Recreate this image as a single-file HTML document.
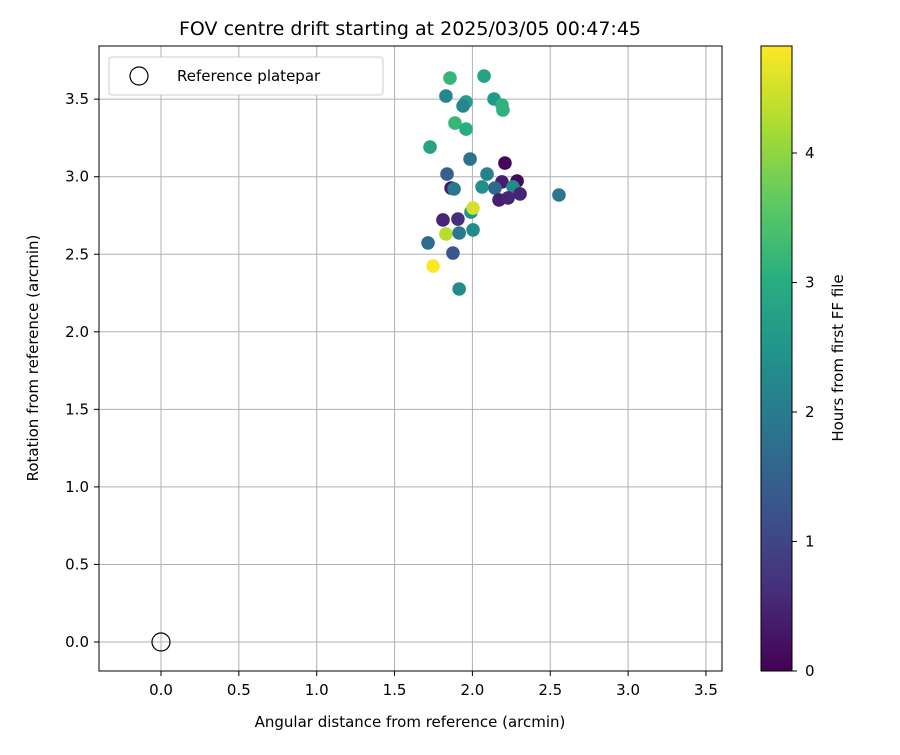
<!DOCTYPE html>
<html><head><meta charset="utf-8"><style>
body{margin:0;background:#fff;font-family:"Liberation Sans","DejaVu Sans",sans-serif}
svg text{font-family:"DejaVu Sans","Liberation Sans",sans-serif}
</style></head><body>
<svg id="chart" width="900" height="750" xmlns="http://www.w3.org/2000/svg">
<defs><linearGradient id="vir" x1="0" y1="1" x2="0" y2="0">
<stop offset="0" stop-color="#440154"/><stop offset="0.125" stop-color="#472d7b"/><stop offset="0.25" stop-color="#3b528b"/><stop offset="0.375" stop-color="#2c728e"/><stop offset="0.5" stop-color="#21918c"/><stop offset="0.625" stop-color="#28ae80"/><stop offset="0.75" stop-color="#5ec962"/><stop offset="0.875" stop-color="#addc30"/><stop offset="1" stop-color="#fde725"/></linearGradient></defs>
<g id="grid"></g>
<g id="pts"></g>
<rect x="99" y="46" width="623" height="625" fill="none" stroke="#000" stroke-width="1"/>
<g id="ticks"></g>
<text x="410" y="35" font-size="19" text-anchor="middle">FOV centre drift starting at 2025/03/05 00:47:45</text>
<text x="410" y="727" font-size="15" text-anchor="middle">Angular distance from reference (arcmin)</text>
<text x="38" y="358" font-size="15" text-anchor="middle" transform="rotate(-90 38 358)">Rotation from reference (arcmin)</text>
<g>
<rect x="109" y="57" width="274" height="38" rx="3" fill="#fff" stroke="#ccc"/>
<circle cx="139" cy="76" r="9" fill="none" stroke="#000" stroke-width="1.2"/>
<text x="177" y="81" font-size="15">Reference platepar</text></g>
<circle id="refm" r="9" fill="none" stroke="#000" stroke-width="1.2"/>
<rect x="761" y="46" width="31" height="625" fill="url(#vir)" stroke="#000"/>
<g id="cbt"></g>
<text x="843" y="358" font-size="15" text-anchor="middle" transform="rotate(-90 843 358)">Hours from first FF file</text>
</svg>
<script>
const xs=[1.856,2.075,1.830,1.959,1.940,2.139,2.190,2.196,1.888,1.959,1.728,1.985,2.209,1.837,2.094,1.863,1.882,2.062,2.190,2.287,2.145,2.261,2.306,2.171,2.229,2.556,1.991,2.004,1.811,1.907,1.830,1.915,2.004,1.715,1.875,1.747,1.915];
const ys=[3.636,3.649,3.520,3.482,3.456,3.501,3.462,3.430,3.346,3.307,3.191,3.114,3.088,3.017,3.017,2.927,2.921,2.934,2.966,2.972,2.927,2.934,2.889,2.850,2.863,2.882,2.772,2.798,2.721,2.727,2.631,2.637,2.657,2.573,2.508,2.424,2.276];
const hours=[3.2,2.8,2.2,2.7,2.2,2.6,3.1,3.1,3.2,3.0,2.8,1.8,0.1,1.5,2.1,0.3,1.9,2.4,0.4,0.1,1.6,2.3,0.5,0.4,0.5,1.9,2.5,4.5,0.5,0.6,4.3,1.9,2.3,1.7,1.3,4.8,2.3];
const xTicks=[0,0.5,1,1.5,2,2.5,3,3.5];
const yTicks=[0,0.5,1,1.5,2,2.5,3,3.5];
const cTicks=[0,1,2,3,4];
const X=v=>161+v*155.7, Y=v=>642-v*155.1, C=v=>671-v*129.5, HMAX=4.826;
const vir=[[68,1,84],[71,45,123],[59,82,139],[44,114,142],[33,145,140],[40,174,128],[94,201,98],[173,220,48],[253,231,37]];
function col(t){t=Math.max(0,Math.min(1,t))*8;const i=Math.min(7,Math.floor(t)),f=t-i,a=vir[i],b=vir[i+1];return`rgb(${a.map((c,k)=>Math.round(c+(b[k]-c)*f)).join(',')})`;}
const NS="http://www.w3.org/2000/svg";
function mk(p,tag,at){const e=document.createElementNS(NS,tag);for(const k in at)e.setAttribute(k,at[k]);p.appendChild(e);return e;}
const g=document.getElementById('grid'),tk=document.getElementById('ticks'),pts=document.getElementById('pts'),cb=document.getElementById('cbt');
xTicks.forEach(v=>{const l=mk(g,'line',{x1:X(v),x2:X(v),y1:46,y2:671,stroke:'#b0b0b0','stroke-width':1});

mk(tk,'line',{x1:X(v),x2:X(v),y1:671,y2:676,stroke:'#000'});
const t=mk(tk,'text',{x:X(v),y:695,'font-size':15,'text-anchor':'middle'});t.textContent=v.toFixed(1);
});
yTicks.forEach(v=>{const l=mk(g,'line',{x1:99,x2:722,y1:Y(v),y2:Y(v),stroke:'#b0b0b0','stroke-width':1});

mk(tk,'line',{x1:94,x2:99,y1:Y(v),y2:Y(v),stroke:'#000'});
const t=mk(tk,'text',{x:89,y:Y(v)+5,'font-size':15,'text-anchor':'end'});t.textContent=v.toFixed(1);
});
xs.forEach((x,i)=>{const c=mk(pts,'circle',{cx:X(x),cy:Y(ys[i]),r:6.8,fill:col(hours[i]/HMAX)});
});
const r=document.getElementById('refm');r.setAttribute('cx',X(0));r.setAttribute('cy',Y(0));
cTicks.forEach(v=>{mk(cb,'line',{x1:792,x2:797,y1:C(v),y2:C(v),stroke:'#000'});
const t=mk(cb,'text',{x:805,y:C(v)+5,'font-size':15});t.textContent=v;
});
</script>
</body></html>
